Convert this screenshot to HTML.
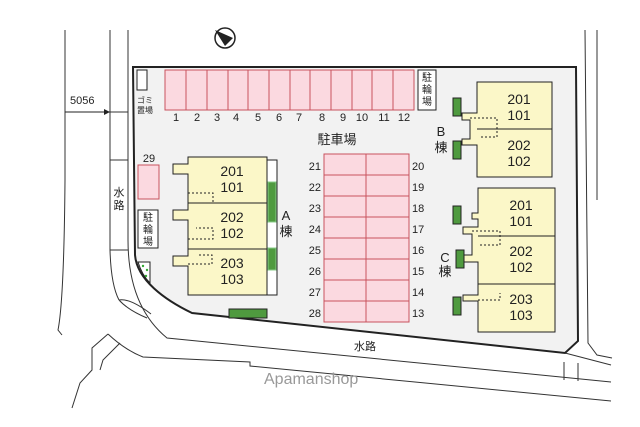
<!DOCTYPE html>
<html><head><meta charset="utf-8"><style>
body{margin:0;background:#fff}
svg{display:block}
text{font-family:"Liberation Sans","Noto Sans CJK JP",sans-serif;fill:#222}
</style></head><body>
<svg width="640" height="427" viewBox="0 0 640 427" xmlns="http://www.w3.org/2000/svg">
<!-- outer lines -->
<g fill="none" stroke="#333" stroke-width="1">
<path d="M65 30 V180 Q64 300 58 330 L62 335"/>
<path d="M110 30 V250 Q111 285 119 300"/>
<path d="M119 300 Q130 298 151 314 M119 300 Q128 310 147 318"/>
<path d="M128 30 V240 C128 290 145 320 167 338 L611 382"/>
<path d="M110 112 H128 M110 160 H128 M110 250 H128"/>
<path d="M108 334 Q125 350 143 357 L250 362 L250 366 L611 401"/>
<path d="M108 334 L92 348 L92 370 L80 383 L72 408"/>
<path d="M120 343 L103 360 L100 370"/>
<path d="M565 353 L611 365"/>
<path d="M585 30 L588 343 L597 355 L612 358"/>
<path d="M597 30 V200"/>
<path d="M564 362 V380 M578 363 V381"/>
</g>
<!-- lot -->
<path d="M133 67 H576 L578 341 L565 353 L192 313 C165 300 137 280 135 255 Z" fill="#f2f2f2" stroke="#222" stroke-width="2"/>
<!-- dimension -->
<text x="70" y="104" font-size="11">5056</text>
<line x1="65" y1="112" x2="110" y2="112" stroke="#222"/>
<path d="M104 109 L110 112 L104 115Z" fill="#222"/>
<!-- compass -->
<circle cx="225" cy="38" r="10" fill="#fff" stroke="#222" stroke-width="1.5"/>
<path d="M215 30 L233 38 L225 46 Z" fill="#222"/>
<!-- gomi -->
<rect x="137" y="70" width="10" height="20" fill="#fff" stroke="#222"/>
<text x="137" y="103" font-size="8">ゴミ</text><text x="137" y="113" font-size="8">置場</text>
<!-- parking 1-12 -->
<rect x="165" y="70" width="249" height="40" fill="#fbd9e0" stroke="#c8525e"/>
<path d="M186 70V110M207 70V110M228 70V110M248 70V110M269 70V110M290 70V110M310 70V110M331 70V110M352 70V110M372 70V110M393 70V110" stroke="#c8525e"/>
<g font-size="11" text-anchor="middle">
<text x="176" y="121">1</text><text x="197" y="121">2</text><text x="217" y="121">3</text><text x="236" y="121">4</text><text x="258" y="121">5</text><text x="279" y="121">6</text><text x="299" y="121">7</text><text x="322" y="121">8</text><text x="343" y="121">9</text><text x="362" y="121">10</text><text x="384" y="121">11</text><text x="404" y="121">12</text>
</g>
<rect x="418" y="70" width="18" height="40" fill="#fff" stroke="#222"/>
<g font-size="10" text-anchor="middle"><text x="427" y="81">駐</text><text x="427" y="93">輪</text><text x="427" y="105">場</text></g>
<text x="337" y="144" font-size="13" text-anchor="middle">駐車場</text>
<!-- center parking -->
<rect x="324" y="154" width="85" height="168" fill="#fbd9e0" stroke="#c8525e"/>
<path d="M366 154V322 M324 175H409M324 196H409M324 217H409M324 238H409M324 259H409M324 280H409M324 301H409" stroke="#c8525e"/>
<g font-size="11" text-anchor="end">
<text x="321" y="170">21</text><text x="321" y="191">22</text><text x="321" y="212">23</text><text x="321" y="233">24</text><text x="321" y="254">25</text><text x="321" y="275">26</text><text x="321" y="296">27</text><text x="321" y="317">28</text>
</g>
<g font-size="11">
<text x="412" y="170">20</text><text x="412" y="191">19</text><text x="412" y="212">18</text><text x="412" y="233">17</text><text x="412" y="254">16</text><text x="412" y="275">15</text><text x="412" y="296">14</text><text x="412" y="317">13</text>
</g>
<!-- 29 -->
<text x="149" y="162" font-size="11" text-anchor="middle">29</text>
<rect x="138" y="165" width="21" height="34" fill="#fbd9e0" stroke="#c8525e"/>
<rect x="138" y="210" width="20" height="38" fill="#fff" stroke="#222"/>
<g font-size="10" text-anchor="middle"><text x="148" y="221">駐</text><text x="148" y="233">輪</text><text x="148" y="245">場</text></g>
<path d="M138 262 H150 V283 Q142 275 138 262Z" fill="#fff" stroke="#222"/>
<circle cx="143" cy="266" r="1.2" fill="#3a3"/><circle cx="147" cy="270" r="1.2" fill="#3a3"/><circle cx="146" cy="276" r="1.2" fill="#3a3"/>
<!-- building A -->
<path d="M188 157 H267 V295 H188 V266 H173 V256 H188 V220 H173 V210 H188 V174 H173 V164 H188 Z" fill="#fbf7c8" stroke="#222"/>
<path d="M188 203 H267 M188 249 H267" stroke="#222"/>
<path d="M188 193 H213 V202 M188 239 H213 V228 H196 M188 264 H212 V255 H198" stroke="#222" stroke-dasharray="2,2" fill="none"/>
<rect x="267" y="160" width="10" height="135" fill="#fff" stroke="#222"/>
<rect x="268" y="182" width="8" height="40" fill="#4f9a3f" stroke="#8c8"/>
<rect x="268" y="248" width="8" height="22" fill="#4f9a3f" stroke="#8c8"/>
<g font-size="14" text-anchor="middle">
<text x="232" y="176">201</text><text x="232" y="192">101</text>
<text x="232" y="222">202</text><text x="232" y="238">102</text>
<text x="232" y="268">203</text><text x="232" y="284">103</text>
</g>
<text x="286" y="220" font-size="13" text-anchor="middle">A</text>
<text x="286" y="236" font-size="13" text-anchor="middle">棟</text>
<rect x="229" y="309" width="38" height="9" fill="#4f9a3f" stroke="#222"/>
<!-- building B -->
<path d="M477 82 H552 V177 H477 V145 H462 V139 H470 V120 H462 V113 H477 Z" fill="#fbf7c8" stroke="#222"/>
<path d="M477 129 H552" stroke="#222"/>
<path d="M470 118 H497 V137 H480" stroke="#222" stroke-dasharray="2,2" fill="none"/>
<rect x="453" y="98" width="8" height="18" fill="#4f9a3f" stroke="#222"/>
<rect x="453" y="141" width="8" height="18" fill="#4f9a3f" stroke="#222"/>
<g font-size="14" text-anchor="middle">
<text x="519" y="104">201</text><text x="519" y="120">101</text>
<text x="519" y="150">202</text><text x="519" y="166">102</text>
</g>
<text x="441" y="136" font-size="13" text-anchor="middle">B</text>
<text x="441" y="152" font-size="13" text-anchor="middle">棟</text>
<!-- building C -->
<path d="M478 188 H555 V332 H478 V301 H463 V295 H478 V262 H463 V255 H472 V234 H463 V227 H478 V219 H472 V213 H478 Z" fill="#fbf7c8" stroke="#222"/>
<path d="M478 236 H555 M478 284 H555" stroke="#222"/>
<path d="M472 231 H500 V245 H478 M478 300 H500 V293" stroke="#222" stroke-dasharray="2,2" fill="none"/>
<rect x="453" y="206" width="8" height="18" fill="#4f9a3f" stroke="#222"/>
<rect x="456" y="250" width="8" height="18" fill="#4f9a3f" stroke="#222"/>
<rect x="453" y="297" width="8" height="18" fill="#4f9a3f" stroke="#222"/>
<g font-size="14" text-anchor="middle">
<text x="521" y="210">201</text><text x="521" y="226">101</text>
<text x="521" y="256">202</text><text x="521" y="272">102</text>
<text x="521" y="304">203</text><text x="521" y="320">103</text>
</g>
<text x="445" y="262" font-size="13" text-anchor="middle">C</text>
<text x="445" y="276" font-size="13" text-anchor="middle">棟</text>
<!-- labels -->
<text x="119" y="196" font-size="11" text-anchor="middle">水</text>
<text x="119" y="209" font-size="11" text-anchor="middle">路</text>
<text x="365" y="350" font-size="11" text-anchor="middle">水路</text>
<text x="264" y="384" font-size="16" style="fill:#999">Apamanshop</text>
</svg>
</body></html>
